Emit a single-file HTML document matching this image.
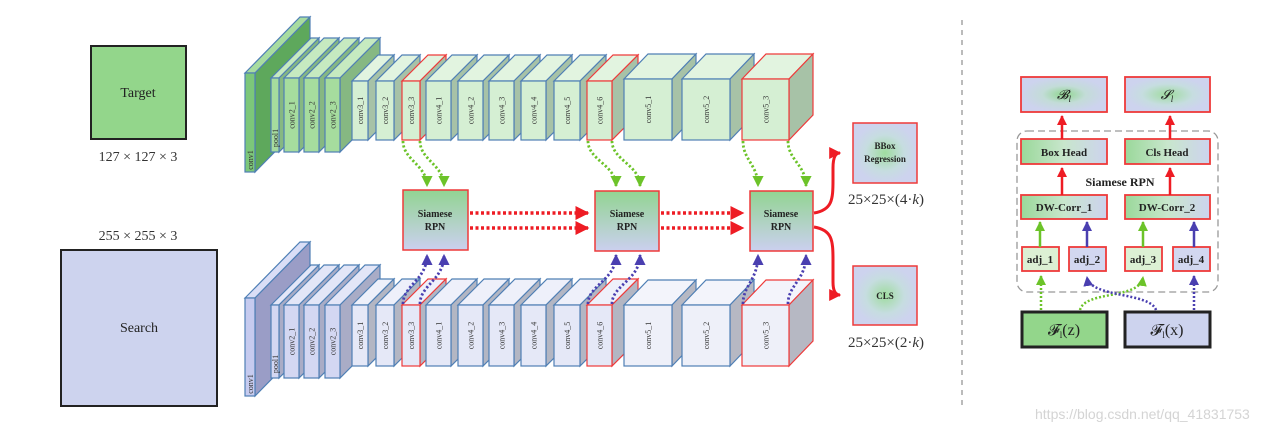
<!DOCTYPE html>
<html><head><meta charset="utf-8">
<style>
html,body{margin:0;padding:0;background:#fff;}
svg{display:block;}
text{font-family:"Liberation Serif",serif;}
text.wm{font-family:"Liberation Sans",sans-serif;}
</style></head>
<body>
<svg id="s" width="1287" height="432" viewBox="0 0 1287 432" xmlns="http://www.w3.org/2000/svg">
<defs>
<linearGradient id="rpn" x1="0" y1="0" x2="0" y2="1">
<stop offset="0" stop-color="#92d492"/><stop offset="1" stop-color="#cbd0ef"/>
</linearGradient>
<linearGradient id="hd" x1="0" y1="0" x2="1" y2="0">
<stop offset="0" stop-color="#9ad89a"/><stop offset="0.5" stop-color="#c8e6cc"/><stop offset="1" stop-color="#cdd3ee"/>
</linearGradient>
<radialGradient id="out" cx="0.5" cy="0.5" r="0.5">
<stop offset="0" stop-color="#9fdc9f"/><stop offset="0.6" stop-color="#c6dde0"/><stop offset="1" stop-color="#cdd3ee"/>
</radialGradient>
<radialGradient id="out2" cx="0.5" cy="0.5" r="0.5">
<stop offset="0" stop-color="#8fd68f"/><stop offset="0.5" stop-color="#c3dcd8"/><stop offset="1" stop-color="#cdd3ee"/>
</radialGradient>
<marker id="ar" viewBox="0 0 10 10" refX="9" refY="5" markerWidth="4" markerHeight="4" orient="auto"><path d="M0,0L10,5L0,10z" fill="#ee1c24"/></marker>
<marker id="ag" viewBox="0 0 10 10" refX="9" refY="5" markerWidth="4" markerHeight="4" orient="auto"><path d="M0,0L10,5L0,10z" fill="#6cc329"/></marker>
<marker id="ap" viewBox="0 0 10 10" refX="9" refY="5" markerWidth="4" markerHeight="4" orient="auto"><path d="M0,0L10,5L0,10z" fill="#4a3fb0"/></marker>
</defs>

<rect x="91" y="46" width="95" height="93" fill="#93d68b" stroke="#222" stroke-width="2"/>
<text x="138" y="97" font-size="14" text-anchor="middle" fill="#222">Target</text>
<text x="138" y="161" font-size="14" text-anchor="middle" fill="#333">127 × 127 × 3</text>
<rect x="61" y="250" width="156" height="156" fill="#cdd3ee" stroke="#222" stroke-width="2"/>
<text x="139" y="332" font-size="14" text-anchor="middle" fill="#222">Search</text>
<text x="138" y="240" font-size="14" text-anchor="middle" fill="#333">255 × 255 × 3</text>

<g id="layers"></g>
<g id="arrows"></g>

<g font-weight="bold" font-size="10" text-anchor="middle" fill="#222">
<rect x="403" y="190" width="65" height="60" fill="url(#rpn)" stroke="#ee3a3a" stroke-width="1.5"/>
<text x="435" y="217">Siamese</text><text x="435" y="230">RPN</text>
<rect x="595" y="191" width="64" height="60" fill="url(#rpn)" stroke="#ee3a3a" stroke-width="1.5"/>
<text x="627" y="217">Siamese</text><text x="627" y="230">RPN</text>
<rect x="750" y="191" width="63" height="60" fill="url(#rpn)" stroke="#ee3a3a" stroke-width="1.5"/>
<text x="781" y="217">Siamese</text><text x="781" y="230">RPN</text>
<rect x="853" y="123" width="64" height="60" fill="url(#out)" stroke="#ee3a3a" stroke-width="1.5"/>
<text x="885" y="149" font-size="9">BBox</text><text x="885" y="162" font-size="9">Regression</text>
<rect x="853" y="266" width="64" height="59" fill="url(#out)" stroke="#ee3a3a" stroke-width="1.5"/>
<text x="885" y="299" font-size="9">CLS</text>
</g>
<text x="886" y="204" font-size="15" text-anchor="middle" fill="#333">25×25×(4·<tspan font-style="italic">k</tspan>)</text>
<text x="886" y="347" font-size="15" text-anchor="middle" fill="#333">25×25×(2·<tspan font-style="italic">k</tspan>)</text>

<g stroke="#ee1c24" stroke-width="3.5" fill="none" stroke-dasharray="3,2.5">
<line x1="470" y1="213" x2="588" y2="213" marker-end="url(#ar)"/>
<line x1="470" y1="228" x2="588" y2="228" marker-end="url(#ar)"/>
<line x1="661" y1="213" x2="743" y2="213" marker-end="url(#ar)"/>
<line x1="661" y1="228" x2="743" y2="228" marker-end="url(#ar)"/>
</g>
<g stroke="#ee1c24" stroke-width="3" fill="none">
<path d="M814,213 C832,210 833,200 833,180 L833,168 C833,156 836,153 840,153" marker-end="url(#ar)"/>
<path d="M814,227 C832,230 833,240 833,260 L833,282 C833,292 836,295 840,295" marker-end="url(#ar)"/>
</g>

<line x1="962" y1="20" x2="962" y2="405" stroke="#bbb" stroke-width="2" stroke-dasharray="5,5"/>

<rect x="1017" y="131" width="201" height="161" rx="10" fill="none" stroke="#999" stroke-width="1.3" stroke-dasharray="7,4"/>
<g font-weight="bold" font-size="11" text-anchor="middle" fill="#222">
<rect x="1021" y="77" width="86" height="35" fill="url(#out2)" stroke="#ee3a3a" stroke-width="1.8"/>
<text x="1064" y="99" font-style="italic" font-weight="normal" font-size="13">𝓑<tspan font-size="9" dy="3">l</tspan></text>
<rect x="1125" y="77" width="85" height="35" fill="url(#out)" stroke="#ee3a3a" stroke-width="1.8"/>
<text x="1167" y="99" font-style="italic" font-weight="normal" font-size="13">𝓢<tspan font-size="9" dy="3">l</tspan></text>
<rect x="1021" y="139" width="86" height="25" fill="url(#hd)" stroke="#ee3a3a" stroke-width="1.8"/>
<text x="1064" y="156">Box Head</text>
<rect x="1125" y="139" width="85" height="25" fill="url(#hd)" stroke="#ee3a3a" stroke-width="1.8"/>
<text x="1167" y="156">Cls Head</text>
<text x="1120" y="186" font-size="12">Siamese RPN</text>
<rect x="1021" y="195" width="86" height="24" fill="url(#hd)" stroke="#ee3a3a" stroke-width="1.8"/>
<text x="1064" y="211">DW-Corr_1</text>
<rect x="1125" y="195" width="85" height="24" fill="url(#hd)" stroke="#ee3a3a" stroke-width="1.8"/>
<text x="1167" y="211">DW-Corr_2</text>
<rect x="1022" y="247" width="37" height="24" fill="#dcf0d4" stroke="#ee3a3a" stroke-width="1.8"/>
<text x="1040" y="263">adj_1</text>
<rect x="1069" y="247" width="37" height="24" fill="#d2d7f0" stroke="#ee3a3a" stroke-width="1.8"/>
<text x="1087" y="263">adj_2</text>
<rect x="1125" y="247" width="37" height="24" fill="#dcf0d4" stroke="#ee3a3a" stroke-width="1.8"/>
<text x="1143" y="263">adj_3</text>
<rect x="1173" y="247" width="37" height="24" fill="#d2d7f0" stroke="#ee3a3a" stroke-width="1.8"/>
<text x="1191" y="263">adj_4</text>
<rect x="1022" y="312" width="85" height="35" fill="#93d68b" stroke="#222" stroke-width="3"/>
<text x="1064" y="335" font-weight="normal" font-size="16">𝓕<tspan font-size="9" dy="3">l</tspan><tspan dy="-3">(z)</tspan></text>
<rect x="1125" y="312" width="85" height="35" fill="#cdd3ee" stroke="#222" stroke-width="3"/>
<text x="1167" y="335" font-weight="normal" font-size="16">𝓕<tspan font-size="9" dy="3">l</tspan><tspan dy="-3">(x)</tspan></text>
</g>
<g stroke-width="2.5" fill="none">
<line x1="1062" y1="139" x2="1062" y2="116" stroke="#ee1c24" marker-end="url(#ar)"/>
<line x1="1170" y1="139" x2="1170" y2="116" stroke="#ee1c24" marker-end="url(#ar)"/>
<line x1="1062" y1="195" x2="1062" y2="168" stroke="#ee1c24" marker-end="url(#ar)"/>
<line x1="1170" y1="195" x2="1170" y2="168" stroke="#ee1c24" marker-end="url(#ar)"/>
<line x1="1040" y1="247" x2="1040" y2="222" stroke="#6cc329" marker-end="url(#ag)"/>
<line x1="1143" y1="247" x2="1143" y2="222" stroke="#6cc329" marker-end="url(#ag)"/>
<line x1="1087" y1="247" x2="1087" y2="222" stroke="#4a3fb0" marker-end="url(#ap)"/>
<line x1="1194" y1="247" x2="1194" y2="222" stroke="#4a3fb0" marker-end="url(#ap)"/>
</g>
<g stroke-width="2.5" fill="none" stroke-dasharray="2,2">
<line x1="1041" y1="310" x2="1041" y2="276" stroke="#6cc329" marker-end="url(#ag)"/>
<path d="M1080,310 C1085,290 1140,300 1143,277" stroke="#6cc329" marker-end="url(#ag)"/>
<path d="M1156,310 C1150,292 1090,298 1087,277" stroke="#4a3fb0" marker-end="url(#ap)"/>
<line x1="1194" y1="310" x2="1194" y2="276" stroke="#4a3fb0" marker-end="url(#ap)"/>
</g>

<text class="wm" x="1035" y="419" font-size="14" fill="#d4d4d4">https://blog.csdn.net/qq_41831753</text>
</svg>
<script>
var NS="http://www.w3.org/2000/svg";
var g=document.getElementById("layers");
function el(t,a,p){var e=document.createElementNS(NS,t);for(var k in a)e.setAttribute(k,a[k]);(p||g).appendChild(e);return e;}
var L=[[245,10,0,"conv1"],[271,8,1,"pool1"],[284,15,1,"conv2_1"],[304,15,1,"conv2_2"],[325,15,1,"conv2_3"],
[352,16,2,"conv3_1"],[376,18,2,"conv3_2"],[402,18,2,"conv3_3",1],[426,25,2,"conv4_1"],[458,25,2,"conv4_2"],
[489,25,2,"conv4_3"],[521,25,2,"conv4_4"],[554,26,2,"conv4_5"],[587,25,2,"conv4_6",1],
[624,48,3,"conv5_1"],[682,48,3,"conv5_2"],[742,47,3,"conv5_3",1]];
var T=[[73,99,55,56,298,98],[78,74,40,40,305,73],[81,59,26,26,305,61],[79,61,24,25,305,61]];
var CG=[["#7cc77a","#a8dca0","#5ea85c"],["#a6dc9e","#c6eac0","#86b882"],["#d5efd3","#e2f4e0","#a7c2a7"],["#d5efd3","#e2f4e0","#a7c2a7"]];
var CB=[["#c6cbef","#dadef6","#9a9dc6"],["#d3d7f2","#e3e6f7","#a9acc6"],["#e5e8f7","#eef0fa","#b3b6c3"],["#eef0f9","#f3f4fb","#b6b8c3"]];
function row(bottom){
 L.forEach(function(l){
  var t=T[l[2]],x=l[0],w=l[1],y=bottom?t[4]:t[0],h=bottom?t[5]:t[1],dx=t[2],dy=t[3];
  var c=(bottom?CB:CG)[l[2]],st=l[4]?"#ee3a3a":"#4f7fb5";
  el("polygon",{points:[x,y,x+dx,y-dy,x+w+dx,y-dy,x+w,y].join(","),fill:c[1],stroke:st,"stroke-width":1.2});
  el("polygon",{points:[x+w,y,x+w+dx,y-dy,x+w+dx,y+h-dy,x+w,y+h].join(","),fill:c[2],stroke:st,"stroke-width":1.2});
  el("rect",{x:x,y:y,width:w,height:h,fill:c[0],stroke:st,"stroke-width":1.2});
  var cx=x+w/2+3, cy=(l[2]<=1&&w<12)?y+h-14:y+h/2;
  if(l[2]==0)cy=y+h-12;
  var tx=el("text",{x:0,y:0,"font-size":8,fill:"#333","text-anchor":"middle",transform:"translate("+cx+","+cy+") rotate(-90)"});
  tx.textContent=l[3];
 });
}
row(false);row(true);
var a=document.getElementById("arrows");
function dot(d,c,m){el("path",{d:d,stroke:c,"stroke-width":2.8,fill:"none","stroke-dasharray":"2.2,2.2","marker-end":"url(#"+m+")"},a);}
var G="#6cc329",P="#4a3fb0";
[[403,427],[420,444],[588,616],[612,640],[743,758],[788,806]].forEach(function(p){
 dot("M"+p[0]+",141 C"+p[0]+",160 "+p[1]+",165 "+p[1]+",186",G,"ag");
 dot("M"+p[0]+",304 C"+p[0]+",285 "+p[1]+",280 "+p[1]+",255",P,"ap");
});
</script>
</body></html>
